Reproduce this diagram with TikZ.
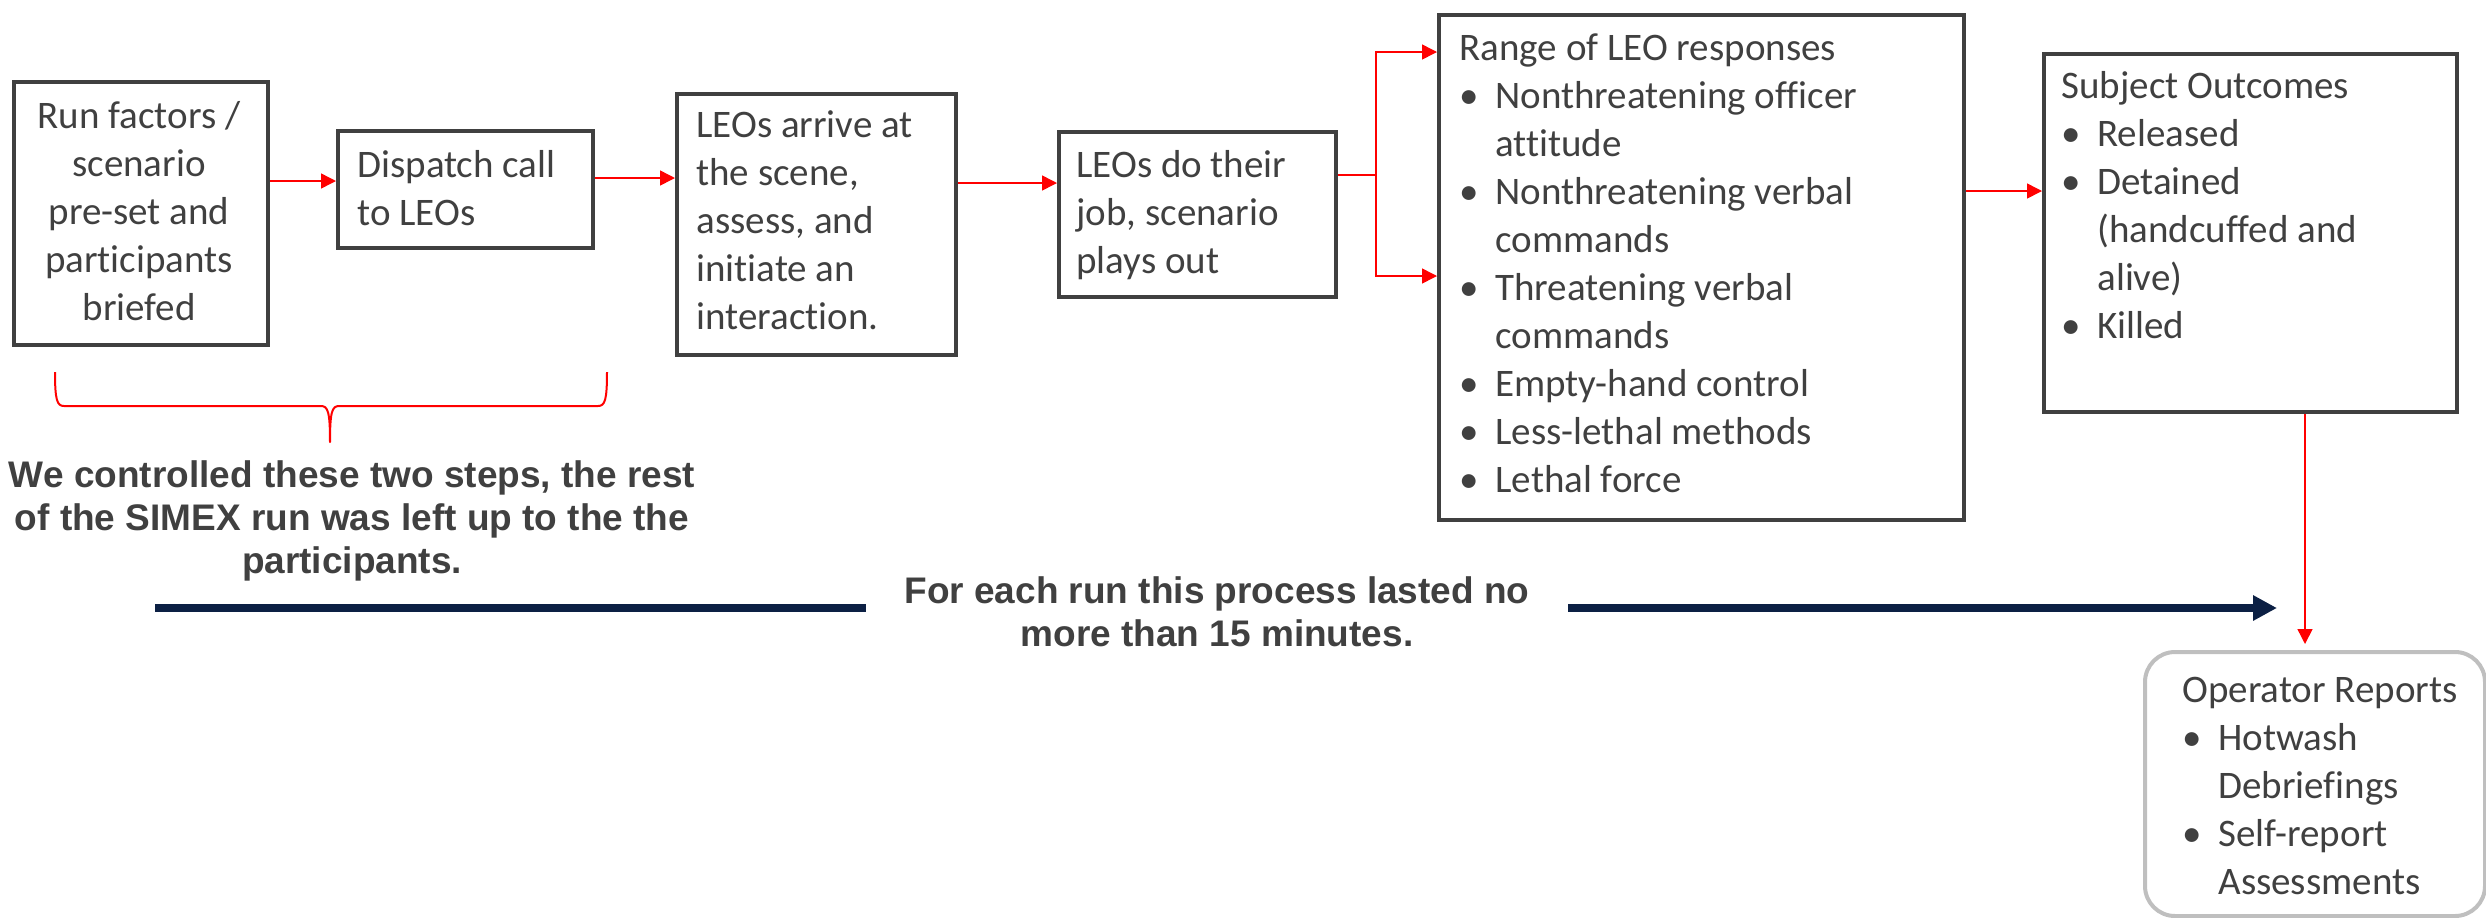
\documentclass[tikz,border=0pt]{standalone}
\usepackage{fontspec}
\setmainfont{Carlito}[Ligatures={NoCommon}]
\newfontfamily\boldsans{Liberation Sans}
\usetikzlibrary{arrows.meta}
\definecolor{txtgray}{HTML}{404040}
\definecolor{navyblue}{HTML}{0C2044}
\definecolor{opgray}{HTML}{BFBFBF}
\newcommand\bodyfnt{\fontsize{19.5pt}{24pt}\selectfont}
\newcommand\boldfnt{\boldsans\bfseries\fontsize{18.5pt}{21.5pt}\selectfont}
\newcommand\bitem[1]{\par\hangindent=18pt\hangafter=1\noindent\makebox[18pt][l]{\textbullet}#1}
\begin{document}
\begin{tikzpicture}[x=0.5pt,y=-0.5pt,
  box/.style={draw=txtgray, line width=1.75pt, inner sep=0pt, anchor=north west},
  opbox/.style={draw=opgray, line width=2pt, rounded corners=15pt, inner sep=0pt, anchor=north west},
  txt/.style={inner sep=0pt, text=txtgray, font=\bodyfnt},
  boldtxt/.style={inner sep=0pt, text=txtgray, font=\boldfnt},
  redline/.style={draw=red, line width=0.75pt},
  redarr/.style={draw=red, line width=0.75pt, -{Triangle[length=7.5pt,width=7.5pt]}},
  navyline/.style={draw=navyblue, line width=4pt},
  navyarr/.style={draw=navyblue, line width=4pt, -{Triangle[length=12pt,width=12pt]}},
  bracestyle/.style={draw=red, line width=1pt, line join=round}]
\useasboundingbox (0,0) rectangle (2486,917);

% boxes
\node[box, minimum width=127pt, minimum height=131.5pt] (b1) at (12,80) {};
\node[box, minimum width=127.5pt, minimum height=58.5pt] (b2) at (336,129) {};
\node[box, minimum width=139.5pt, minimum height=130.5pt] (b3) at (675,92) {};
\node[box, minimum width=138.5pt, minimum height=82.5pt] (b4) at (1057,130) {};
\node[box, minimum width=262.5pt, minimum height=252.5pt] (b5) at (1437,13) {};
\node[box, minimum width=206.5pt, minimum height=179pt] (b6) at (2042,52) {};
\node[opbox, minimum width=170pt, minimum height=132pt] (b7) at (2143,650) {};

% box texts
\node[txt, anchor=base] (t1) at (139,128) {\parbox[t]{125pt}{\centering Run factors /\\scenario\\pre-set and\\participants\\briefed}};
\node[txt, anchor=base west] (t2) at (357,177) {\parbox[t]{110pt}{\noindent Dispatch call\newline to LEOs}};
\node[txt, anchor=base west] (t3) at (696,137) {\parbox[t]{125pt}{\noindent LEOs arrive at\newline the scene,\newline assess, and\newline initiate an\newline interaction.}};
\node[txt, anchor=base west] (t4) at (1076,177) {\parbox[t]{125pt}{\noindent LEOs do their\newline job, scenario\newline plays out}};
\node[txt, anchor=base west] (t5) at (1459,60) {\parbox[t]{245pt}{\noindent Range of LEO responses
  \bitem{Nonthreatening officer\newline attitude}
  \bitem{Nonthreatening verbal\newline commands}
  \bitem{Threatening verbal\newline commands}
  \bitem{Empty-hand control}
  \bitem{Less-lethal methods}
  \bitem{Lethal force}}};
\node[txt, anchor=base west] (t6) at (2061,98) {\parbox[t]{190pt}{\noindent Subject Outcomes
  \bitem{Released}
  \bitem{Detained\newline (handcuffed and\newline alive)}
  \bitem{Killed}}};
\node[txt, anchor=base west] (t7) at (2182,702) {\parbox[t]{148pt}{\noindent Operator Reports
  \bitem{Hotwash\newline Debriefings}
  \bitem{Self-report\newline Assessments}}};

% bold notes
\node[boldtxt, anchor=base] (nt1) at (352,487) {\parbox[t]{370pt}{\centering We controlled these two steps, the rest\\of the SIMEX run was left up to the the\\participants.}};
\node[boldtxt, anchor=base] (nt2) at (1217,603) {\parbox[t]{351pt}{\centering For each run this process lasted no\\more than 15 minutes.}};

% red connectors
\coordinate (y12) at (0,181);
\coordinate (y23) at (0,178);
\coordinate (y34) at (0,183);
\coordinate (split) at (1376,175);
\coordinate (s1) at (1376,52);
\coordinate (s2) at (1376,276);
\coordinate (y56) at (0,191);
\coordinate (vx) at (2305,0);
\draw[redarr] (b1.east |- y12) -- (b2.west |- y12);
\draw[redarr] (b2.east |- y23) -- (b3.west |- y23);
\draw[redarr] (b3.east |- y34) -- (b4.west |- y34);
\draw[redline] (b4.east |- split) -- (split);
\draw[redarr] (split) -- (s1) -- (s1 -| b5.west);
\draw[redarr] (split) -- (s2) -- (s2 -| b5.west);
\draw[redarr] (b5.east |- y56) -- (b6.west |- y56);
\draw[redarr, shorten >=3pt] (b6.south -| vx) -- (b7.north -| vx);

% brace
\draw[bracestyle] (55,372) .. controls (55,400) and (57,406) .. (64,406) -- (321,406)
  .. controls (328,406) and (330,412) .. (330,442)
  .. controls (330,412) and (332,406) .. (339,406) -- (598,406)
  .. controls (605,406) and (607,400) .. (607,372);

% timeline arrow
\coordinate (navyL) at (155,608);
\coordinate (navyR) at (2277,608);
\draw[navyline] (navyL) -- (nt2.west |- navyL);
\draw[navyarr] (nt2.east |- navyL) -- (navyR);
\end{tikzpicture}
\end{document}
